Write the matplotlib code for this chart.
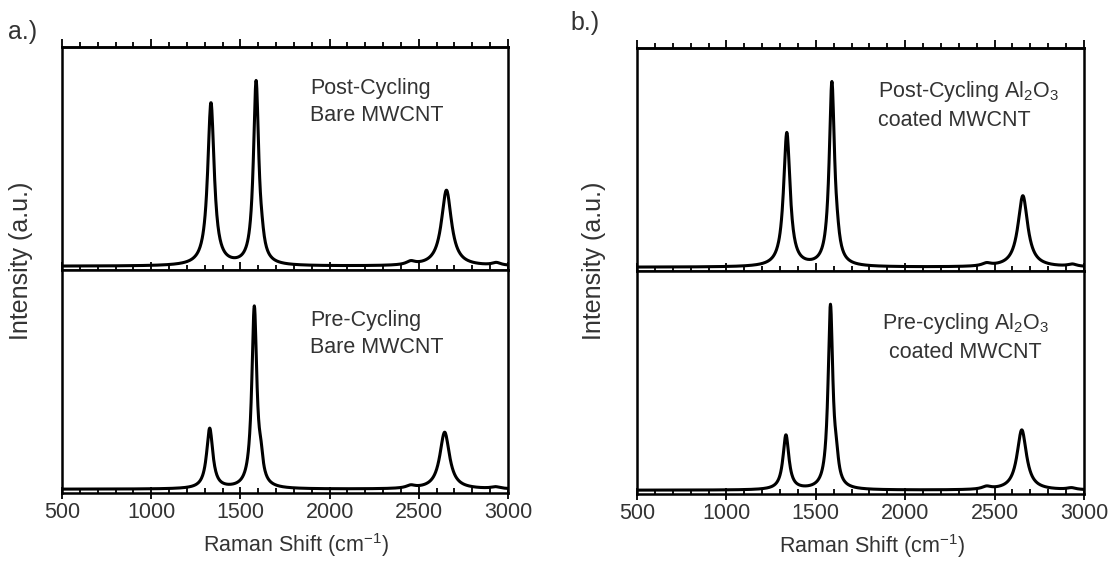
import numpy as np
import matplotlib.pyplot as plt
from matplotlib.ticker import MultipleLocator

plt.rcParams['font.family'] = ['Liberation Sans', 'DejaVu Sans']
plt.rcParams['mathtext.default'] = 'regular'

# Raman shift grid (cm^-1)
shift = np.arange(500, 3001, 2.0)

# Peak tables for each spectrum: centre (cm^-1), height (norm.), FWHM (cm^-1)
# D, G, D' shoulder, small 2450 band, 2D, small 2930 band
a_post_pos = [1335, 1588, 1620, 2455, 2655, 2935]
a_post_amp = [0.73, 0.82, 0.04, 0.015, 0.34, 0.012]
a_post_fwhm = [44, 36, 30, 60, 68, 60]

a_pre_pos = [1328, 1578, 1615, 2455, 2645, 2930]
a_pre_amp = [0.27, 0.81, 0.08, 0.012, 0.255, 0.008]
a_pre_fwhm = [42, 34, 28, 60, 66, 60]

b_post_pos = [1338, 1590, 1620, 2455, 2658, 2935]
b_post_amp = [0.60, 0.82, 0.04, 0.012, 0.32, 0.010]
b_post_fwhm = [44, 36, 30, 60, 66, 60]

b_pre_pos = [1333, 1582, 1615, 2455, 2652, 2930]
b_pre_amp = [0.245, 0.82, 0.08, 0.012, 0.27, 0.008]
b_pre_fwhm = [40, 32, 28, 60, 64, 60]

baseline = 0.017
text_color = '#333333'
fs = 15.5


def spectrum(pos, amp, fwhm):
    y = np.full_like(shift, baseline)
    for c, a, w in zip(pos, amp, fwhm):
        y += a / (1 + (2 * (shift - c) / w) ** 2)
    return y


def set_x_ticks(axis):
    axis.set_major_locator(MultipleLocator(500))
    axis.set_minor_locator(MultipleLocator(100))


def make_panel(rect, post, pre, post_text, pre_text, pre_place, letter, letter_xy, ylabel_x):
    left, bottom, width, height = rect
    ax_top = fig.add_axes([left, bottom + height / 2, width, height / 2])
    ax_bot = fig.add_axes([left, bottom, width, height / 2])
    ax_top.plot(shift, spectrum(*post), color='black', lw=2.2)
    ax_bot.plot(shift, spectrum(*pre), color='black', lw=2.2)

    for ax in (ax_top, ax_bot):
        ax.set_xlim(500, 3000)
        ax.set_ylim(0, 1)
        ax.set_yticks([])
        set_x_ticks(ax.xaxis)
        for s in ax.spines.values():
            s.set_linewidth(1.8)

    # upper spectrum: inward ticks on the dividing line
    ax_top.tick_params(axis='x', which='both', direction='in', top=False,
                       labelbottom=False, width=1.3)
    ax_top.tick_params(axis='x', which='major', length=6)
    ax_top.tick_params(axis='x', which='minor', length=3.5)

    # outward ticks along the top edge
    sec = ax_top.secondary_xaxis('top')
    set_x_ticks(sec.xaxis)
    sec.tick_params(axis='x', which='both', direction='out', labeltop=False, width=1.3)
    sec.tick_params(axis='x', which='major', length=6)
    sec.tick_params(axis='x', which='minor', length=3.5)
    sec.spines['top'].set_linewidth(1.8)

    ax_bot.tick_params(axis='x', which='major', direction='inout', length=9,
                       width=1.3, labelsize=fs, pad=2, labelcolor=text_color)
    ax_bot.tick_params(axis='x', which='minor', direction='in', length=3.5, width=1.3)
    ax_bot.set_xlabel('Raman Shift (cm$^{-1}$)', fontsize=fs, color=text_color, labelpad=6)
    ax_bot.xaxis.label.set_x(0.525)

    ax_top.text(post_text[0], post_text[1], post_text[2], transform=ax_top.transAxes,
                ha='left', va='top', fontsize=fs, color=text_color, linespacing=1.35)
    ax_bot.text(pre_place[0], pre_place[1], pre_text, transform=ax_bot.transAxes,
                ha=pre_place[2], va='top', fontsize=fs, color=text_color,
                linespacing=1.35, multialignment=pre_place[2])

    fig.text(letter_xy[0], letter_xy[1], letter, fontsize=18, color=text_color, va='baseline')
    fig.text(ylabel_x, 1 - 261 / 563, 'Intensity (a.u.)', rotation=90,
             ha='center', va='center', fontsize=18, color=text_color)


fig = plt.figure(figsize=(11.11, 5.63), dpi=100)

make_panel([62 / 1111, 1 - 493 / 563, 446 / 1111, 446 / 563],
           (a_post_pos, a_post_amp, a_post_fwhm),
           (a_pre_pos, a_pre_amp, a_pre_fwhm),
           (0.556, 0.86, 'Post-Cycling\nBare MWCNT'),
           'Pre-Cycling\nBare MWCNT', (0.556, 0.82, 'left'),
           'a.)', (8 / 1111, 1 - 39 / 563), 21 / 1111)

make_panel([637 / 1111, 1 - 494 / 563, 447 / 1111, 446 / 563],
           (b_post_pos, b_post_amp, b_post_fwhm),
           (b_pre_pos, b_pre_amp, b_pre_fwhm),
           (0.54, 0.86, 'Post-Cycling Al$_2$O$_3$\ncoated MWCNT'),
           'Pre-cycling Al$_2$O$_3$\ncoated MWCNT', (0.734, 0.82, 'center'),
           'b.)', (570 / 1111, 1 - 30 / 563), 594 / 1111)

fig.savefig('out.png', dpi=100, facecolor='white')
